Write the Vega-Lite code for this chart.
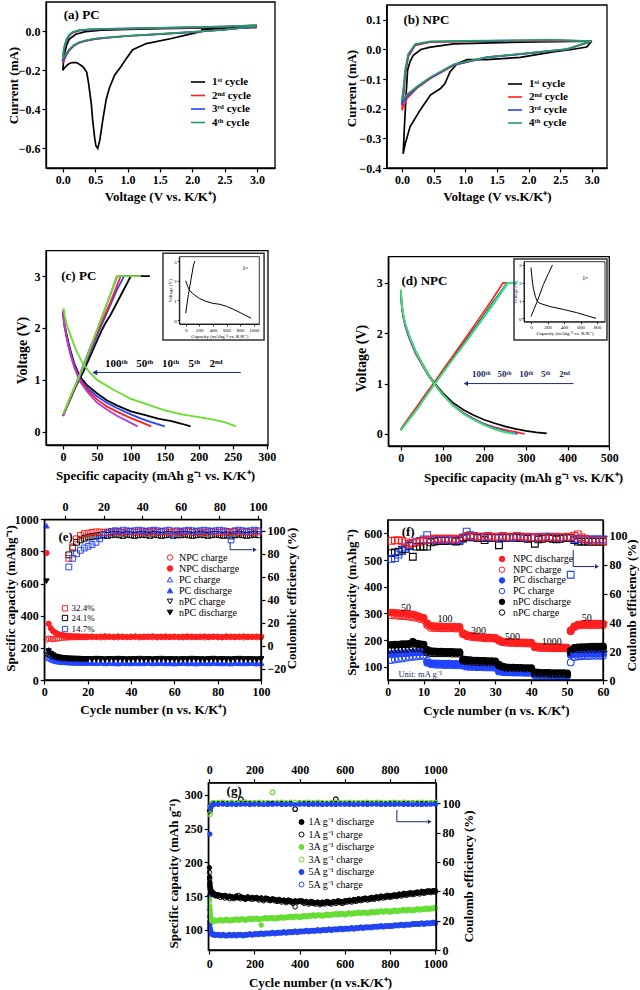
{
"$schema":"https://vega.github.io/schema/vega-lite/v6.json",
"width":640,"height":990,"autosize":"none","padding":0,"background":"white",
"config":{
 "view":{"stroke":null},
 "font":"Liberation Serif",
 "axis":{"grid":false,"labelFont":"Liberation Serif","labelFontSize":12,"labelFontWeight":"bold","labelColor":"#000","titleFont":"Liberation Serif","titleFontSize":13,"titleFontWeight":"bold","titleColor":"#000","domainColor":"#000","domainWidth":1.3,"tickColor":"#000","tickWidth":1.2,"tickSize":4,"labelPadding":2,"labelFlush":false,"labelOverlap":false,"titleAlign":"center","titleBaseline":"middle","format":"d"},
 "legend":{"labelFont":"Liberation Serif","labelFontSize":10,"labelColor":"#000","padding":0,"symbolStrokeWidth":1,"labelLimit":300},
 "text":{"font":"Liberation Serif","color":"#000"},
 "line":{"strokeWidth":1.6}
},
"datasets":{
 "a":[
  {"k":"1ˢᵗ cycle","v":[3.0,2.5,2.15,2.15,1.9,1.68,1.29,1.08,0.98,0.9,0.8,0.72,0.67,0.62,0.57,0.54,0.51,0.49,0.46,0.44,0.4,0.37,0.32,0.28,0.21,0.15,0.1,0.05,0.02,0.0,0.01,0.03,0.06,0.1,0.2,0.35,0.6,1.0,1.5,2.0,2.5,3.0],
   "i":[0.02,0.012,0.008,0.0,-0.02,-0.037,-0.063,-0.094,-0.14,-0.18,-0.225,-0.29,-0.35,-0.45,-0.56,-0.6,-0.585,-0.54,-0.45,-0.37,-0.27,-0.21,-0.185,-0.174,-0.16,-0.16,-0.165,-0.178,-0.19,-0.2,-0.16,-0.11,-0.07,-0.04,-0.015,-0.002,0.006,0.01,0.013,0.016,0.02,0.025]},
  {"k":"2ⁿᵈ cycle","v":[3.0,2.5,2.0,1.5,1.0,0.7,0.5,0.35,0.25,0.17,0.11,0.06,0.03,0.01,0.0,0.01,0.03,0.06,0.1,0.15,0.25,0.4,0.7,1.0,1.5,2.0,2.5,3.0],
   "i":[0.025,0.008,-0.004,-0.014,-0.024,-0.033,-0.04,-0.05,-0.06,-0.075,-0.095,-0.12,-0.14,-0.155,-0.16,-0.12,-0.08,-0.045,-0.022,-0.008,0.003,0.008,0.011,0.013,0.016,0.019,0.023,0.03]},
  {"k":"3ʳᵈ cycle","v":[3.0,2.5,2.0,1.5,1.0,0.7,0.5,0.35,0.25,0.17,0.11,0.06,0.03,0.01,0.0,0.01,0.03,0.06,0.1,0.15,0.25,0.4,0.7,1.0,1.5,2.0,2.5,3.0],
   "i":[0.025,0.008,-0.004,-0.014,-0.024,-0.032,-0.039,-0.048,-0.058,-0.072,-0.092,-0.115,-0.133,-0.145,-0.148,-0.11,-0.075,-0.042,-0.02,-0.006,0.004,0.009,0.012,0.014,0.017,0.02,0.024,0.03]},
  {"k":"4ᵗʰ cycle","v":[3.0,2.5,2.0,1.5,1.0,0.7,0.5,0.35,0.25,0.17,0.11,0.06,0.03,0.01,0.0,0.01,0.03,0.06,0.1,0.15,0.25,0.4,0.7,1.0,1.5,2.0,2.5,3.0],
   "i":[0.025,0.009,-0.003,-0.013,-0.023,-0.031,-0.038,-0.047,-0.056,-0.07,-0.088,-0.11,-0.125,-0.135,-0.138,-0.1,-0.068,-0.038,-0.017,-0.004,0.006,0.01,0.013,0.015,0.018,0.021,0.025,0.031]}
 ],
 "b":[
  {"k":"1ˢᵗ cycle","v":[3.0,2.92,2.66,2.39,1.87,1.34,1.03,0.87,0.76,0.68,0.61,0.45,0.29,0.13,0.05,0.02,0.04,0.07,0.09,0.13,0.18,0.3,0.45,0.82,1.87,3.0],
   "i":[0.028,0.008,-0.001,-0.008,-0.027,-0.034,-0.034,-0.048,-0.076,-0.115,-0.132,-0.154,-0.204,-0.26,-0.32,-0.352,-0.26,-0.14,-0.07,-0.04,-0.02,0.0,0.008,0.019,0.025,0.028]},
  {"k":"2ⁿᵈ cycle","v":[3.0,2.6,1.87,1.34,0.82,0.45,0.24,0.08,0.03,0.0,0.03,0.05,0.1,0.21,0.45,1.34,2.4,3.0],
   "i":[0.028,0.0,-0.016,-0.027,-0.053,-0.098,-0.13,-0.165,-0.19,-0.205,-0.15,-0.09,-0.025,0.014,0.025,0.028,0.03,0.028]},
  {"k":"3ʳᵈ cycle","v":[3.0,2.6,1.87,1.34,0.82,0.45,0.24,0.08,0.03,0.0,0.03,0.05,0.1,0.21,0.45,1.34,2.4,3.0],
   "i":[0.028,0.0,-0.016,-0.027,-0.052,-0.096,-0.128,-0.158,-0.175,-0.182,-0.13,-0.08,-0.02,0.016,0.026,0.029,0.031,0.028]},
  {"k":"4ᵗʰ cycle","v":[3.0,2.6,1.87,1.34,0.82,0.45,0.24,0.08,0.03,0.0,0.03,0.05,0.1,0.21,0.45,1.34,2.4,3.0],
   "i":[0.028,0.001,-0.015,-0.026,-0.05,-0.094,-0.125,-0.152,-0.166,-0.172,-0.12,-0.07,-0.015,0.018,0.027,0.03,0.032,0.028]}
 ],
 "c":[
  {"k":"5th","d":"5d","x":[0,2,5,8,12,17,25,35,50,65,80,100,120,140,160,175,188],"y":[2.3,2.1,1.9,1.72,1.52,1.3,1.06,0.9,0.74,0.6,0.5,0.39,0.32,0.25,0.2,0.15,0.1]},
  {"k":"5th","d":"5c","x":[0,10,20,30,40,50,57,62,70,80,90,100,128],"y":[0.3,0.6,0.9,1.15,1.45,1.75,1.95,2.08,2.25,2.5,2.75,3.0,3.0]},
  {"k":"10th","d":"10d","x":[0,2,5,8,12,17,25,35,50,65,80,100,115,130,150],"y":[2.28,2.05,1.85,1.68,1.48,1.27,1.02,0.85,0.68,0.55,0.45,0.33,0.25,0.18,0.1]},
  {"k":"10th","d":"10c","x":[0,10,20,30,40,50,60,70,80,90,112],"y":[0.3,0.62,0.92,1.22,1.52,1.85,2.15,2.45,2.75,3.0,3.0]},
  {"k":"50th","d":"50d","x":[0,2,5,8,12,17,25,35,50,65,80,100,115,130],"y":[2.3,2.05,1.83,1.65,1.45,1.24,1.0,0.82,0.62,0.48,0.38,0.26,0.18,0.1]},
  {"k":"50th","d":"50c","x":[0,10,20,30,40,50,60,70,85,110],"y":[0.3,0.62,0.93,1.25,1.57,1.9,2.2,2.5,3.0,3.0]},
  {"k":"100th","d":"100d","x":[0,2,5,8,12,17,25,35,50,65,80,95,110],"y":[2.35,2.1,1.85,1.65,1.45,1.22,0.97,0.78,0.56,0.42,0.3,0.2,0.1]},
  {"k":"100th","d":"100c","x":[0,10,20,30,40,50,60,70,80,110],"y":[0.3,0.63,0.95,1.28,1.62,1.95,2.3,2.65,3.0,3.0]},
  {"k":"2nd","d":"2d","x":[1,3,6,10,15,20,25,30,40,50,60,75,90,100,125,150,175,200,225,240,255],"y":[2.38,2.2,2.05,1.9,1.72,1.55,1.42,1.3,1.13,1.0,0.92,0.8,0.7,0.63,0.52,0.41,0.33,0.28,0.22,0.17,0.1]},
  {"k":"2nd","d":"2c","x":[0,10,20,30,40,50,60,70,79,95,115],"y":[0.33,0.65,0.95,1.25,1.6,1.95,2.3,2.65,3.0,3.0,3.0]}
 ],
 "ci":[
  {"d":"dis","x":[0,30,60,100,200,300,400,500,600,700,800,900,960],"y":[2.0,1.7,1.5,1.35,1.1,0.95,0.85,0.8,0.7,0.55,0.38,0.2,0.1]},
  {"d":"ch","x":[0,40,80,115,135],"y":[0.35,1.3,2.1,2.8,3.0]}
 ],
 "d":[
  {"k":"2nd","d":"2d","x":[0,2,5,10,20,35,50,65,80,100,125,150,175,200,225,250,275,300,325,350],"y":[2.85,2.6,2.4,2.2,1.95,1.65,1.42,1.2,1.02,0.82,0.62,0.48,0.37,0.28,0.21,0.15,0.1,0.06,0.03,0.01]},
  {"k":"2nd","d":"2c","x":[0,20,40,60,80,100,130,160,190,220,255,275],"y":[0.08,0.3,0.53,0.77,1.0,1.23,1.57,1.9,2.25,2.6,3.0,3.0]},
  {"k":"5th","d":"5d","x":[0,2,5,10,20,35,50,65,80,100,125,150,175,200,225,250,275,297],"y":[2.8,2.55,2.35,2.15,1.9,1.6,1.38,1.17,0.99,0.78,0.57,0.42,0.3,0.2,0.13,0.08,0.04,0.0]},
  {"k":"5th","d":"5c","x":[0,20,40,60,80,100,130,160,190,220,245,262],"y":[0.1,0.33,0.56,0.8,1.02,1.26,1.61,1.96,2.32,2.68,3.0,3.0]},
  {"k":"10th","d":"10d","x":[0,2,5,10,20,35,50,65,80,100,125,150,175,200,225,250,280],"y":[2.82,2.57,2.37,2.17,1.92,1.62,1.4,1.18,1.0,0.79,0.57,0.41,0.29,0.19,0.11,0.05,0.0]},
  {"k":"10th","d":"10c","x":[0,20,40,60,80,100,130,160,190,220,255,275],"y":[0.08,0.29,0.51,0.75,0.98,1.21,1.55,1.88,2.23,2.58,3.0,3.0]},
  {"k":"50th","d":"50d","x":[0,2,5,10,20,35,50,65,80,100,125,150,175,200,225,250,275],"y":[2.85,2.6,2.4,2.2,1.95,1.64,1.41,1.19,1.0,0.79,0.56,0.4,0.28,0.18,0.1,0.04,0.0]},
  {"k":"50th","d":"50c","x":[0,20,40,60,80,100,130,160,190,220,258,280],"y":[0.07,0.28,0.5,0.74,0.97,1.2,1.54,1.87,2.21,2.55,3.0,3.0]},
  {"k":"100th","d":"100d","x":[0,2,5,10,20,35,50,65,80,100,125,150,175,200,225,250,270],"y":[2.87,2.62,2.42,2.22,1.96,1.65,1.42,1.2,1.0,0.79,0.56,0.4,0.28,0.17,0.09,0.03,0.0]},
  {"k":"100th","d":"100c","x":[0,20,40,60,80,100,130,160,190,220,255,272],"y":[0.08,0.29,0.51,0.75,0.98,1.21,1.55,1.88,2.23,2.58,3.0,3.0]}
 ],
 "di":[
  {"d":"dis","x":[0,12,28,53,77,109,230,392,553,675,788],"y":[2.85,2.25,1.69,1.22,0.94,0.84,0.66,0.5,0.32,0.15,0.0]},
  {"d":"ch","x":[0,40,80,150,210,260],"y":[0.1,0.55,1.0,1.9,2.5,3.0]}
 ],
 "e":[{
  "c":[1,2,3,4,5,6,7,8,9,10,11,12,13,14,15,16,17,18,19,20,22,24,26,28,30,32,34,36,38,40,42,44,46,48,50,52,54,56,58,60,62,64,66,68,70,72,74,76,78,80,82,84,86,88,90,92,94,96,98,100],
  "NPC charge":[252,258,256,254,256,258,260,262,263,264,265,265,266,266,266,267,267,267,267,267,266,267,265,266,268,266,265,267,266,266,268,265,266,267,266,265,267,266,266,268,266,265,267,266,266,267,265,266,268,266,265,267,266,266,267,265,266,267,266,266],
  "NPC discharge":[790,350,322,305,295,288,283,280,277,275,274,273,272,272,271,271,270,270,270,270,271,269,270,272,270,269,271,270,268,270,271,269,270,270,272,269,270,271,269,270,268,270,271,270,269,270,271,269,270,270,268,271,270,269,270,271,270,269,270,271],
  "PC charge":[145,135,128,122,118,115,113,112,111,110,109,108,108,107,107,107,106,106,106,106,105,104,106,103,105,104,102,105,104,103,105,103,104,106,103,104,105,103,104,102,104,105,103,104,102,105,104,103,105,104,103,104,102,105,104,103,104,105,102,104],
  "PC discharge":[960,188,150,138,130,125,122,120,118,116,115,114,113,112,112,111,111,110,110,110,109,108,110,107,109,108,106,109,108,107,109,107,108,110,107,108,109,107,108,106,108,109,107,108,106,109,108,107,109,108,107,108,106,109,108,107,108,109,106,108],
  "nPC charge":[155,150,145,140,136,133,131,130,129,128,128,127,127,127,126,126,126,126,126,126,125,127,126,124,126,125,127,126,124,125,126,127,125,126,124,126,127,125,126,125,124,126,125,127,126,125,124,126,127,125,126,125,124,126,127,125,126,125,124,126],
  "nPC discharge":[615,180,165,155,148,144,141,139,137,136,135,134,134,133,133,133,132,132,132,132,131,133,132,130,132,131,133,132,130,131,132,133,131,132,130,132,133,131,132,131,130,132,131,133,132,131,130,132,133,131,132,131,130,132,133,131,132,131,130,132]
 }],
 "ece":[{
  "cc":[2,4,6,8,10,12,14,16,18,20,22,24,26,28,30,32,34,36,38,40,42,44,46,48,50,52,54,56,58,60,62,64,66,68,70,72,74,76,78,80,82,84,86,88,90,92,94,96,98,100],
  "NPC":[76,86,93,96,97.5,98,98.5,99,99,98.5,99,98.5,99.5,99,98.5,99,99.5,98.5,99,99,98.5,99,99.5,98.5,99,99,98.5,99.5,99,98.5,99,99.5,98.5,99,99,98.5,99,99.5,99,98.5,99,98.5,99,99.5,98.5,99,99,98.5,99,99],
  "nPC":[79,85,90,92,93.5,94.5,95,95.5,96,96.5,96,96.5,97,96.5,96,97,96.5,96,96.5,97,96.5,96,97,96.5,96,96.5,97,96,96.5,96.5,97,96.5,96,96.5,97,96.5,96,96.5,97,96.5,96,96.5,95.5,96.5,97,96.5,96,96.5,97,96.5],
  "PC":[68.5,76,80,83,85,86.5,88,90,93,96,98,99.5,100,99.5,100.5,100,99.5,100,100.5,100,99.5,100,100.5,100,99.5,100,100.5,96,100,99.5,100,100.5,100,99.5,100,100.5,100,99.5,100,100.5,100,99.5,92,100,100.5,100,99.5,100,100.5,100]
 }],
 "f":[{
  "c":[1,2,3,4,5,6,7,8,9,10,11,12,13,14,15,16,17,18,19,20,21,22,23,24,25,26,27,28,29,30,31,32,33,34,35,36,37,38,39,40,41,42,43,44,45,46,47,48,49,50,51,52,53,54,55,56,57,58,59,60],
  "NPC discharge":[303,302,301,300,299,297,296,292,287,283,262,253,252,251,251,250,250,250,249,249,226,219,216,214,212,211,210,210,209,208,200,195,194,193,192,192,191,191,190,190,177,175,174,174,173,173,173,172,172,171,236,251,258,259,260,260,261,261,261,261],
  "NPC charge":[293,292,291,290,289,287,285,283,279,276,256,246,245,245,244,244,244,244,243,243,222,215,212,210,209,208,207,206,206,205,197,192,190,189,189,188,188,187,187,186,173,171,170,170,170,169,169,169,169,168,233,249,254,255,255,256,256,256,256,256],
  "PC discharge":[148,149,150,150,151,152,153,154,155,155,115,113,112,112,111,111,111,110,110,110,105,103,103,102,102,101,101,100,100,100,84,82,82,81,81,80,80,80,79,79,71,70,70,69,69,69,68,68,68,68,145,148,148,149,149,150,150,150,150,150],
  "PC charge":[125,127,129,131,133,135,137,138,140,141,122,110,108,107,107,106,106,106,105,105,104,100,99,99,98,98,97,97,97,96,82,80,79,79,78,78,78,77,77,77,68,67,66,66,66,65,65,65,65,65,116,136,138,139,140,140,141,141,141,141],
  "nPC discharge":[182,183,183,184,184,185,193,186,184,183,163,158,157,156,156,155,155,155,154,154,127,125,124,123,123,122,122,121,121,120,104,100,97,96,96,95,95,94,94,94,79,78,77,77,77,76,76,76,76,75,160,170,172,173,173,174,175,175,175,176],
  "nPC charge":[163,164,165,165,166,166,170,168,168,167,153,151,150,150,150,150,150,149,149,149,122,119,118,117,117,116,116,116,115,115,108,100,96,95,95,94,94,93,93,93,75,74,73,73,73,72,72,72,72,72,155,164,165,165,165,165,166,166,166,166]
 }],
 "fce":[{
  "c":[1,2,3,4,5,6,7,8,9,10,11,12,13,14,15,16,17,18,19,20,21,22,23,24,25,26,27,28,29,30,31,32,33,34,35,36,37,38,39,40,41,42,43,44,45,46,47,48,49,50,51,52,53,54,55,56,57,58,59,60],
  "NPC":[96.5,96.8,97,96.5,95.5,94.5,95,95.5,96,96.5,97,97.5,98,98,98,98,98,98,97.5,98,99,100,99.5,100,99.5,99,99.5,100,99.5,99,99.5,100,99.5,99,99.5,100,99.5,99,99.5,99,99,99.5,99,98.5,99,99,99.5,99,99,99.5,99,100,101,99,98,97,96.5,96.5,96.5,96.5],
  "nPC":[88,88.5,89,90.5,91,93,85.5,92.5,92.5,92.5,92.5,95.5,96,96.5,96.5,96.5,96.5,96.5,96,96.5,98.5,99,99.5,99,98.5,98.5,97,98.5,99,98.5,93.5,98.5,99,98.5,99,99,98.5,98.5,98,98.5,94.5,97.5,98,98.5,98.5,98,97.5,98,98.5,98.5,98.5,97,96,96,96,96,96,96,96,96],
  "PC":[84,84.5,87,89.5,92,93.5,95,96,96.5,97.5,100.5,97,97.5,97,97,97,97,96.5,97,97,98,103,100.5,99.5,99,99.5,99,99,99,99,98.5,99,99,99,98.5,99,99.5,99,98.5,99,99,98.5,99,99.5,99.5,99,99,99,98.5,99,73,97.5,98,97.5,97.5,97.5,97.5,97.5,97.5,97.5]
 }],
 "g":[{
  "c":[1,2,3,4,5,6,8,10,13,16,20,25,30,40,50,60,70,80,90,100,110,120,130,140,150,160,170,180,190,200,210,220,230,240,250,260,270,280,290,300,310,320,330,340,350,360,370,380,390,400,410,420,430,440,450,460,470,480,490,500,510,520,530,540,550,560,570,580,590,600,610,620,630,640,650,660,670,680,690,700,710,720,730,740,750,760,770,780,790,800,810,820,830,840,850,860,870,880,890,900,910,920,930,940,950,960,970,980,990,1000],
  "1A g⁻¹ discharge":[192,178,170,165,162,160,158,157,156,155,154,153,152,152,151,150,151,149,150,149,148,150,147,149,148,146,149,147,148,147,148,146,147,145,147,146,144,146,145,144,145,143,144,142,144,143,141,143,142,143,143,141,142,140,142,141,140,141,139,141,140,142,141,140,142,141,143,142,141,143,143,144,143,145,144,146,145,146,147,146,147,148,147,149,148,150,149,150,151,150,151,152,151,153,152,154,153,154,155,154,155,156,155,157,156,157,158,157,158,158],
  "1A g⁻¹ charge":[185,175,168,163,160,158,156,155,154,153,152,151,150,150,148,149,147,148,146,147,146,148,151,146,147,145,147,146,145,146,146,144,147,143,146,144,143,145,143,142,143,141,143,140,142,141,139,134,141,142,141,139,141,138,140,139,138,140,137,139,138,140,139,138,141,139,141,140,139,141,141,142,141,143,142,144,143,144,145,144,145,146,145,147,146,148,147,148,149,148,149,150,149,151,150,152,151,152,153,152,153,154,153,155,154,155,156,155,156,156],
  "3A g⁻¹ discharge":[165,145,135,128,122,118,116,115,114,114,114,114,114,114,115,114,115,115,114,115,115,116,115,116,116,115,116,117,116,117,117,116,107,117,118,117,118,118,117,118,118,119,118,119,119,120,119,120,120,119,120,121,120,121,121,122,121,122,122,121,122,123,122,123,123,124,123,124,124,123,124,125,124,125,125,126,125,126,126,125,126,127,126,127,127,128,127,128,128,127,128,129,128,129,129,130,129,130,130,129,130,131,130,131,131,132,131,132,132,133],
  "3A g⁻¹ charge":[150,140,130,125,120,117,115,114,113,113,113,113,113,113,114,113,114,114,113,114,114,115,114,115,115,114,115,116,115,116,116,115,116,116,117,116,117,117,116,117,117,118,117,118,118,119,118,119,119,118,119,120,119,120,120,121,120,121,121,120,121,122,121,122,122,123,122,123,123,122,123,124,123,124,124,125,124,125,125,124,125,126,125,126,126,127,126,127,127,126,127,128,127,128,128,129,128,129,129,128,129,130,129,130,130,131,130,131,131,132],
  "5A g⁻¹ discharge":[150,120,108,102,99,97,96,95,94,94,93,93,93,93,92,93,92,92,93,92,93,92,93,93,92,93,93,94,93,94,94,94,95,94,95,95,95,96,95,96,96,96,97,96,97,97,97,98,97,98,98,98,99,98,99,99,99,100,99,100,100,100,101,100,101,101,101,102,101,102,102,102,103,102,103,103,104,103,104,104,104,104,105,105,105,106,105,106,106,106,106,107,107,107,108,107,108,108,108,109,109,109,109,110,109,110,110,110,111,110],
  "5A g⁻¹ charge":[130,112,104,100,98,96,95,94,93,93,92,92,92,92,91,92,91,91,92,91,92,91,92,92,91,92,92,93,92,93,93,93,94,93,94,94,94,95,94,95,95,95,96,95,96,96,96,97,96,97,97,97,98,97,98,98,98,99,98,99,99,99,100,99,100,100,100,101,100,101,101,101,102,101,102,102,103,102,103,103,103,103,104,104,104,105,104,105,105,105,105,106,106,106,107,106,107,107,107,108,108,108,108,109,108,109,109,109,110,109]
 }],
 "gce":[{
  "cc":[3,6,10,15,20,40,60,80,100,120,140,160,180,200,220,240,260,280,300,320,340,360,380,400,420,440,460,480,500,520,540,560,580,600,620,640,660,680,700,720,740,760,780,800,820,840,860,880,900,920,940,960,980,1000],
  "1A":[95,98,99,99.5,99.6,99.8,99.9,99.7,100,99.8,102.7,99.9,99.7,100,99.8,99.9,99.7,99.8,100,99.9,99.7,99.8,96,100,99.9,99.7,99.8,100,99.9,99.7,99.8,102.7,100,99.9,99.7,99.8,100,99.9,99.7,99.8,100,99.9,99.7,99.8,100,99.9,99.7,99.8,100,99.9,99.7,99.8,100,99.9],
  "3A":[92.6,97,99,100,100.4,100.3,100.6,100.2,100.5,100.1,100.4,100.7,100.3,100.2,100.5,100.1,100.4,107.5,100.3,100.6,100.2,100.5,100.3,100.1,100.4,100.6,100.2,100.5,100.3,100.1,100.4,100.6,100.3,100.2,100.5,100.1,100.4,100.3,100.6,100.2,100.5,100.3,100.1,100.4,100.6,100.2,100.5,100.3,100.1,100.4,100.6,100.3,100.2,100.5],
  "5A":[79,96.5,98.5,99,99.2,99.3,99.5,99.2,99.4,99.1,99.3,99.5,99.2,99.4,99.3,99.1,99.4,99.3,99.5,99.2,99.3,99.4,99.1,99.3,99.5,99.2,99.4,99.3,99.1,99.5,99.3,99.2,99.4,99.3,99.5,99.1,99.3,99.4,99.2,99.5,99.3,99.1,99.4,99.3,99.2,99.5,99.3,99.4,99.1,99.3,99.2,99.4,99.3,99.5]
 }]
},
"resolve":{"scale":{"x":"independent","y":"independent","color":"independent","stroke":"independent","fill":"independent","shape":"independent"},"axis":{"x":"independent","y":"independent"},"legend":{"color":"independent","stroke":"independent","fill":"independent","shape":"independent"}},
"layer":[
 {"data":{"name":"a"},"transform":[{"flatten":["v","i"]}],"mark":{"type":"line","strokeWidth":1.7},
  "encoding":{
   "x":{"field":"v","type":"quantitative","scale":{"domain":[-0.26,3.28],"rangeMin":46,"rangeMax":275,"nice":false},"axis":{"orient":"bottom","offset":-822,"values":[0,0.5,1,1.5,2,2.5,3],"format":".1f","title":"Voltage (V vs. K/K⁺)","titleX":160,"titleY":28}},
   "y":{"field":"i","type":"quantitative","scale":{"domain":[-0.7,0.15],"rangeMin":168,"rangeMax":2,"nice":false},"axis":{"orient":"left","offset":-46,"values":[-0.6,-0.4,-0.2,0],"format":".1f","title":"Current (mA)","titleX":-33,"titleY":85}},
   "color":{"field":"k","type":"nominal","scale":{"domain":["1ˢᵗ cycle","2ⁿᵈ cycle","3ʳᵈ cycle","4ᵗʰ cycle"],"range":["#000000","#ff1f1f","#2244ff","#2a9a60"]},"legend":{"title":null,"orient":"none","legendX":190,"legendY":74,"symbolType":"stroke","symbolSize":200,"symbolStrokeWidth":2.2,"labelFontSize":11,"labelFontWeight":"bold","rowPadding":0.5,"labelOffset":6}},
   "order":{"value":null}}},
 {"data":{"values":[{}]},"mark":{"type":"rect","filled":false,"stroke":"#000","strokeWidth":1.3},"encoding":{"x":{"datum":-0.26,"scale":{"domain":[-0.26,3.28],"rangeMin":46,"rangeMax":275,"nice":false},"axis":null},"x2":{"datum":3.28},"y":{"datum":-0.7,"scale":{"domain":[-0.7,0.15],"rangeMin":168,"rangeMax":2,"nice":false},"axis":null},"y2":{"datum":0.15}}},
 {"data":{"values":[{"t":"(a) PC","x":0.015,"y":0.082}]},"mark":{"type":"text","align":"left","baseline":"middle","fontSize":13,"fontWeight":"bold"},"encoding":{"x":{"field":"x","type":"quantitative","scale":{"domain":[-0.26,3.28],"rangeMin":46,"rangeMax":275,"nice":false},"axis":null},"y":{"field":"y","type":"quantitative","scale":{"domain":[-0.7,0.15],"rangeMin":168,"rangeMax":2,"nice":false},"axis":null},"text":{"field":"t"}}},

 {"data":{"name":"b"},"transform":[{"flatten":["v","i"]}],"mark":{"type":"line","strokeWidth":1.7},
  "encoding":{
   "x":{"field":"v","type":"quantitative","scale":{"domain":[-0.24,3.24],"rangeMin":386.7,"rangeMax":607,"nice":false},"axis":{"orient":"bottom","offset":-822,"values":[0,0.5,1,1.5,2,2.5,3],"format":".1f","title":"Voltage (V vs.K/K⁺)","titleX":497,"titleY":28}},
   "y":{"field":"i","type":"quantitative","scale":{"domain":[-0.4,0.15],"rangeMin":168,"rangeMax":5,"nice":false},"axis":{"orient":"left","offset":-386.7,"values":[-0.4,-0.3,-0.2,-0.1,0,0.1],"format":".1f","title":"Current (mA)","titleX":-35,"titleY":88}},
   "color":{"field":"k","type":"nominal","scale":{"domain":["1ˢᵗ cycle","2ⁿᵈ cycle","3ʳᵈ cycle","4ᵗʰ cycle"],"range":["#000000","#ff1f1f","#2244ff","#2a9a60"]},"legend":{"title":null,"orient":"none","legendX":507,"legendY":76,"symbolType":"stroke","symbolSize":200,"symbolStrokeWidth":2.2,"labelFontSize":11,"labelFontWeight":"bold","rowPadding":0,"labelOffset":6}},
   "order":{"value":null}}},
 {"data":{"values":[{}]},"mark":{"type":"rect","filled":false,"stroke":"#000","strokeWidth":1.3},"encoding":{"x":{"datum":-0.24,"scale":{"domain":[-0.24,3.24],"rangeMin":386.7,"rangeMax":607,"nice":false},"axis":null},"x2":{"datum":3.24},"y":{"datum":-0.4,"scale":{"domain":[-0.4,0.15],"rangeMin":168,"rangeMax":5,"nice":false},"axis":null},"y2":{"datum":0.15}}},
 {"data":{"values":[{"t":"(b) NPC","x":0.025,"y":0.098}]},"mark":{"type":"text","align":"left","baseline":"middle","fontSize":13,"fontWeight":"bold"},"encoding":{"x":{"field":"x","type":"quantitative","scale":{"domain":[-0.24,3.24],"rangeMin":386.7,"rangeMax":607,"nice":false},"axis":null},"y":{"field":"y","type":"quantitative","scale":{"domain":[-0.4,0.15],"rangeMin":168,"rangeMax":5,"nice":false},"axis":null},"text":{"field":"t"}}},

 {"data":{"name":"c"},"transform":[{"flatten":["x","y"]}],"mark":{"type":"line","strokeWidth":1.8},
  "encoding":{
   "x":{"field":"x","type":"quantitative","scale":{"domain":[-25,302],"rangeMin":46,"rangeMax":268,"nice":false},"axis":{"orient":"bottom","offset":-545,"values":[0,50,100,150,200,250,300],"title":"Specific capacity (mAh g⁻¹ vs. K/K⁺)","titleX":155,"titleY":30}},
   "y":{"field":"y","type":"quantitative","scale":{"domain":[-0.26,3.49],"rangeMin":445,"rangeMax":250.7,"nice":false},"axis":{"orient":"left","offset":-46,"values":[0,1,2,3],"title":"Voltage (V)","titleFontSize":14,"titleX":-24,"titleY":350}},
   "color":{"field":"k","type":"nominal","scale":{"domain":["2nd","5th","10th","50th","100th"],"range":["#66e02a","#000000","#2244ff","#ff1f1f","#b040d0"]},"legend":null},
   "detail":{"field":"d"},"order":{"value":null}}},
 {"data":{"values":[{}]},"mark":{"type":"rect","filled":false,"stroke":"#000","strokeWidth":1.3},"encoding":{"x":{"datum":-25,"scale":{"domain":[-25,302],"rangeMin":46,"rangeMax":268,"nice":false},"axis":null},"x2":{"datum":302},"y":{"datum":-0.26,"scale":{"domain":[-0.26,3.49],"rangeMin":445,"rangeMax":250.7,"nice":false},"axis":null},"y2":{"datum":3.49}}},
 {"data":{"values":[{"x":262,"y":1.14},{"x":50,"y":1.14}]},"mark":{"type":"line","color":"#1a2a80","strokeWidth":1},"encoding":{"x":{"field":"x","type":"quantitative","scale":{"domain":[-25,302],"rangeMin":46,"rangeMax":268,"nice":false},"axis":null},"y":{"field":"y","type":"quantitative","scale":{"domain":[-0.26,3.49],"rangeMin":445,"rangeMax":250.7,"nice":false},"axis":null}}},
 {"data":{"values":[{}]},"mark":{"type":"point","shape":"triangle-left","filled":true,"color":"#1a2a80","size":30,"opacity":1},"encoding":{"x":{"datum":47,"scale":{"domain":[-25,302],"rangeMin":46,"rangeMax":268,"nice":false},"axis":null},"y":{"datum":1.14,"scale":{"domain":[-0.26,3.49],"rangeMin":445,"rangeMax":250.7,"nice":false},"axis":null}}},
 {"data":{"values":[{"t":"(c) PC","x":-2.5,"y":3.0}]},"mark":{"type":"text","align":"left","baseline":"middle","fontSize":13,"fontWeight":"bold"},"encoding":{"x":{"field":"x","type":"quantitative","scale":{"domain":[-25,302],"rangeMin":46,"rangeMax":268,"nice":false},"axis":null},"y":{"field":"y","type":"quantitative","scale":{"domain":[-0.26,3.49],"rangeMin":445,"rangeMax":250.7,"nice":false},"axis":null},"text":{"field":"t"}}},
 {"data":{"values":[{"t":"100ᵗʰ","x":62,"y":1.25},{"t":"50ᵗʰ","x":108,"y":1.25},{"t":"10ᵗʰ","x":146,"y":1.25},{"t":"5ᵗʰ","x":185,"y":1.25},{"t":"2ⁿᵈ","x":216,"y":1.25}]},"mark":{"type":"text","align":"left","baseline":"alphabetic","fontSize":11,"fontWeight":"bold"},"encoding":{"x":{"field":"x","type":"quantitative","scale":{"domain":[-25,302],"rangeMin":46,"rangeMax":268,"nice":false},"axis":null},"y":{"field":"y","type":"quantitative","scale":{"domain":[-0.26,3.49],"rangeMin":445,"rangeMax":250.7,"nice":false},"axis":null},"text":{"field":"t"}}},

 {"data":{"name":"ci"},"transform":[{"flatten":["x","y"]}],"mark":{"type":"line","strokeWidth":1,"color":"#000"},
  "encoding":{
   "x":{"field":"x","type":"quantitative","scale":{"domain":[-94,1082],"rangeMin":179.3,"rangeMax":259.3,"nice":false},"axis":{"orient":"bottom","offset":-666,"values":[0,200,400,600,800,1000],"title":"Capacity (mAhg⁻¹ vs. K/K⁺)","labelFontSize":5,"labelFontWeight":"normal","titleFontSize":5,"titleFontWeight":"normal","tickSize":2,"tickWidth":0.8,"domainWidth":0.8,"labelPadding":1,"titlePadding":1,"titleBaseline":"top"}},
   "y":{"field":"y","type":"quantitative","scale":{"domain":[-0.2,3.22],"rangeMin":324,"rangeMax":256.7,"nice":false},"axis":{"orient":"left","offset":-179.3,"values":[0,1,2,3],"title":"Voltage (V)","labelFontSize":5,"labelFontWeight":"normal","titleFontSize":5,"titleFontWeight":"normal","tickSize":2,"tickWidth":0.8,"domainWidth":0.8,"labelPadding":1,"titlePadding":1,"titleBaseline":"bottom"}},
   "detail":{"field":"d"},"order":{"value":null}}},
 {"data":{"values":[{}]},"mark":{"type":"rect","filled":false,"stroke":"#000","strokeWidth":0.8},"encoding":{"x":{"datum":-94,"scale":{"domain":[-94,1082],"rangeMin":179.3,"rangeMax":259.3,"nice":false},"axis":null},"x2":{"datum":1082},"y":{"datum":-0.2,"scale":{"domain":[-0.2,3.22],"rangeMin":324,"rangeMax":256.7,"nice":false},"axis":null},"y2":{"datum":3.22}}},
 {"data":{"values":[{}]},"mark":{"type":"rect","filled":false,"stroke":"#333","strokeWidth":1.5},"encoding":{"x":{"datum":-334,"scale":{"domain":[-94,1082],"rangeMin":179.3,"rangeMax":259.3,"nice":false},"axis":null},"x2":{"datum":1152},"y":{"datum":-1.01,"scale":{"domain":[-0.2,3.22],"rangeMin":324,"rangeMax":256.7,"nice":false},"axis":null},"y2":{"datum":3.4}}},
 {"data":{"values":[{"t":"1ˢᵗ","x":873,"y":2.63}]},"mark":{"type":"text","align":"center","baseline":"middle","fontSize":6},"encoding":{"x":{"field":"x","type":"quantitative","scale":{"domain":[-94,1082],"rangeMin":179.3,"rangeMax":259.3,"nice":false},"axis":null},"y":{"field":"y","type":"quantitative","scale":{"domain":[-0.2,3.22],"rangeMin":324,"rangeMax":256.7,"nice":false},"axis":null},"text":{"field":"t"}}},

 {"data":{"name":"d"},"transform":[{"flatten":["x","y"]}],"mark":{"type":"line","strokeWidth":1.6},
  "encoding":{
   "x":{"field":"x","type":"quantitative","scale":{"domain":[-30,500],"rangeMin":388.3,"rangeMax":609.3,"nice":false},"axis":{"orient":"bottom","offset":-544,"values":[0,100,200,300,400,500],"title":"Specific capacity (mAh g⁻¹ vs. K/K⁺)","titleX":523,"titleY":31}},
   "y":{"field":"y","type":"quantitative","scale":{"domain":[-0.24,3.52],"rangeMin":446,"rangeMax":256.7,"nice":false},"axis":{"orient":"left","offset":-388.3,"values":[0,1,2,3],"title":"Voltage (V)","titleFontSize":14,"titleX":-27,"titleY":358}},
   "color":{"field":"k","type":"nominal","scale":{"domain":["2nd","5th","10th","50th","100th"],"range":["#000000","#ff1f1f","#2244ff","#22d3c8","#44dd66"]},"legend":null},
   "detail":{"field":"d"},"order":{"value":null}}},
 {"data":{"values":[{}]},"mark":{"type":"rect","filled":false,"stroke":"#000","strokeWidth":1.3},"encoding":{"x":{"datum":-30,"scale":{"domain":[-30,500],"rangeMin":388.3,"rangeMax":609.3,"nice":false},"axis":null},"x2":{"datum":500},"y":{"datum":-0.24,"scale":{"domain":[-0.24,3.52],"rangeMin":446,"rangeMax":256.7,"nice":false},"axis":null},"y2":{"datum":3.52}}},
 {"data":{"values":[{"x":414,"y":1.0},{"x":160,"y":1.0}]},"mark":{"type":"line","color":"#1a2a80","strokeWidth":1},"encoding":{"x":{"field":"x","type":"quantitative","scale":{"domain":[-30,500],"rangeMin":388.3,"rangeMax":609.3,"nice":false},"axis":null},"y":{"field":"y","type":"quantitative","scale":{"domain":[-0.24,3.52],"rangeMin":446,"rangeMax":256.7,"nice":false},"axis":null}}},
 {"data":{"values":[{}]},"mark":{"type":"point","shape":"triangle-left","filled":true,"color":"#1a2a80","size":25,"opacity":1},"encoding":{"x":{"datum":156,"scale":{"domain":[-30,500],"rangeMin":388.3,"rangeMax":609.3,"nice":false},"axis":null},"y":{"datum":1.0,"scale":{"domain":[-0.24,3.52],"rangeMin":446,"rangeMax":256.7,"nice":false},"axis":null}}},
 {"data":{"values":[{"t":"(d) NPC","x":1.7,"y":3.04}]},"mark":{"type":"text","align":"left","baseline":"middle","fontSize":13,"fontWeight":"bold"},"encoding":{"x":{"field":"x","type":"quantitative","scale":{"domain":[-30,500],"rangeMin":388.3,"rangeMax":609.3,"nice":false},"axis":null},"y":{"field":"y","type":"quantitative","scale":{"domain":[-0.24,3.52],"rangeMin":446,"rangeMax":256.7,"nice":false},"axis":null},"text":{"field":"t"}}},
 {"data":{"values":[{"t":"100ᵗʰ","x":171,"y":1.14},{"t":"50ᵗʰ","x":232,"y":1.14},{"t":"10ᵗʰ","x":284,"y":1.14},{"t":"5ᵗʰ","x":336,"y":1.14},{"t":"2ⁿᵈ","x":380,"y":1.14}]},"mark":{"type":"text","align":"left","baseline":"alphabetic","fontSize":9,"fontWeight":"bold","color":"#1a2a60"},"encoding":{"x":{"field":"x","type":"quantitative","scale":{"domain":[-30,500],"rangeMin":388.3,"rangeMax":609.3,"nice":false},"axis":null},"y":{"field":"y","type":"quantitative","scale":{"domain":[-0.24,3.52],"rangeMin":446,"rangeMax":256.7,"nice":false},"axis":null},"text":{"field":"t"}}},

 {"data":{"name":"di"},"transform":[{"flatten":["x","y"]}],"mark":{"type":"line","strokeWidth":1,"color":"#000"},
  "encoding":{
   "x":{"field":"x","type":"quantitative","scale":{"domain":[-85,897],"rangeMin":524,"rangeMax":605,"nice":false},"axis":{"orient":"bottom","offset":-668.3,"values":[0,200,400,600,800],"title":"Capacity (mAhg⁻¹ vs. K/K⁺)","labelFontSize":5,"labelFontWeight":"normal","titleFontSize":5,"titleFontWeight":"normal","tickSize":2,"tickWidth":0.8,"domainWidth":0.8,"labelPadding":1,"titlePadding":1,"titleBaseline":"top"}},
   "y":{"field":"y","type":"quantitative","scale":{"domain":[-0.19,3.18],"rangeMin":321.7,"rangeMax":261.7,"nice":false},"axis":{"orient":"left","offset":-524,"values":[0,1,2,3],"title":"Voltage (V)","labelFontSize":5,"labelFontWeight":"normal","titleFontSize":5,"titleFontWeight":"normal","titleColor":"#2233aa","tickSize":2,"tickWidth":0.8,"domainWidth":0.8,"labelPadding":1,"titlePadding":1,"titleBaseline":"bottom"}},
   "detail":{"field":"d"},"order":{"value":null}}},
 {"data":{"values":[{}]},"mark":{"type":"rect","filled":false,"stroke":"#000","strokeWidth":0.8},"encoding":{"x":{"datum":-85,"scale":{"domain":[-85,897],"rangeMin":524,"rangeMax":605,"nice":false},"axis":null},"x2":{"datum":897},"y":{"datum":-0.19,"scale":{"domain":[-0.19,3.18],"rangeMin":321.7,"rangeMax":261.7,"nice":false},"axis":null},"y2":{"datum":3.18}}},
 {"data":{"values":[{}]},"mark":{"type":"rect","filled":false,"stroke":"#333","strokeWidth":1.5},"encoding":{"x":{"datum":-206,"scale":{"domain":[-85,897],"rangeMin":524,"rangeMax":605,"nice":false},"axis":null},"x2":{"datum":921},"y":{"datum":-1.22,"scale":{"domain":[-0.19,3.18],"rangeMin":321.7,"rangeMax":261.7,"nice":false},"axis":null},"y2":{"datum":3.33}}},
 {"data":{"values":[{"t":"1ˢᵗ","x":655,"y":2.25}]},"mark":{"type":"text","align":"center","baseline":"middle","fontSize":6},"encoding":{"x":{"field":"x","type":"quantitative","scale":{"domain":[-85,897],"rangeMin":524,"rangeMax":605,"nice":false},"axis":null},"y":{"field":"y","type":"quantitative","scale":{"domain":[-0.19,3.18],"rangeMin":321.7,"rangeMax":261.7,"nice":false},"axis":null},"text":{"field":"t"}}},

 {"data":{"name":"e"},"transform":[{"flatten":["c","NPC charge","NPC discharge","PC charge","PC discharge","nPC charge","nPC discharge"]},{"fold":["PC charge","PC discharge","nPC charge","nPC discharge","NPC charge","NPC discharge"],"as":["s","v"]}],
  "mark":{"type":"point","size":28,"strokeWidth":1,"opacity":1},
  "encoding":{
   "x":{"field":"c","type":"quantitative","scale":{"domain":[0,100],"rangeMin":44.3,"rangeMax":261,"nice":false},"axis":{"orient":"bottom","offset":-310,"values":[0,20,40,60,80,100],"title":"Cycle number (n vs. K/K⁺)","titleX":153,"titleY":29}},
   "y":{"field":"v","type":"quantitative","scale":{"domain":[0,1000],"rangeMin":680,"rangeMax":519.3,"nice":false},"axis":{"orient":"left","offset":-44.3,"values":[0,200,400,600,800,1000],"title":"Specific capacity (mAhg⁻¹)","titleX":-34,"titleY":598}},
   "stroke":{"field":"s","type":"nominal","scale":{"domain":["NPC charge","NPC discharge","PC charge","PC discharge","nPC charge","nPC discharge"],"range":["#ff1f1f","#ff1f1f","#2244ff","#2244ff","#000000","#000000"]},"legend":{"title":null,"orient":"none","legendX":165,"legendY":552.5,"symbolSize":30,"labelFontSize":10,"rowPadding":1,"labelOffset":4}},
   "fill":{"field":"s","type":"nominal","scale":{"domain":["NPC charge","NPC discharge","PC charge","PC discharge","nPC charge","nPC discharge"],"range":["transparent","#ff1f1f","transparent","#2244ff","transparent","#000000"]},"legend":{"title":null,"orient":"none","legendX":165,"legendY":552.5}},
   "shape":{"field":"s","type":"nominal","scale":{"domain":["NPC charge","NPC discharge","PC charge","PC discharge","nPC charge","nPC discharge"],"range":["circle","circle","triangle-up","triangle-up","triangle-down","triangle-down"]},"legend":{"title":null,"orient":"none","legendX":165,"legendY":552.5}}}},
 {"data":{"values":[{}]},"mark":{"type":"rect","filled":false,"stroke":"#000","strokeWidth":1.3},"encoding":{"x":{"datum":0,"scale":{"domain":[0,100],"rangeMin":44.3,"rangeMax":261,"nice":false},"axis":null},"x2":{"datum":100},"y":{"datum":0,"scale":{"domain":[0,1000],"rangeMin":680,"rangeMax":519.3,"nice":false},"axis":null},"y2":{"datum":1000}}},
 {"data":{"values":[{"k":"NPC","x":9.55,"y":446},{"k":"nPC","x":9.55,"y":386},{"k":"PC","x":9.55,"y":317}]},"mark":{"type":"point","shape":"square","filled":false,"size":28,"strokeWidth":1,"opacity":1},"encoding":{"x":{"field":"x","type":"quantitative","scale":{"domain":[0,100],"rangeMin":44.3,"rangeMax":261,"nice":false},"axis":null},"y":{"field":"y","type":"quantitative","scale":{"domain":[0,1000],"rangeMin":680,"rangeMax":519.3,"nice":false},"axis":null},"color":{"field":"k","type":"nominal","scale":{"domain":["NPC","nPC","PC"],"range":["#ff1f1f","#000000","#2244ff"]},"legend":null}}},
 {"data":{"values":[{"t":"32.4%","x":12.6,"y":446},{"t":"24.1%","x":12.6,"y":386},{"t":"14.7%","x":12.6,"y":317}]},"mark":{"type":"text","align":"left","baseline":"middle","fontSize":9},"encoding":{"x":{"field":"x","type":"quantitative","scale":{"domain":[0,100],"rangeMin":44.3,"rangeMax":261,"nice":false},"axis":null},"y":{"field":"y","type":"quantitative","scale":{"domain":[0,1000],"rangeMin":680,"rangeMax":519.3,"nice":false},"axis":null},"text":{"field":"t"}}},
 {"data":{"values":[{"t":"(e)","x":6.5,"y":892}]},"mark":{"type":"text","align":"left","baseline":"middle","fontSize":13,"fontWeight":"bold"},"encoding":{"x":{"field":"x","type":"quantitative","scale":{"domain":[0,100],"rangeMin":44.3,"rangeMax":261,"nice":false},"axis":null},"y":{"field":"y","type":"quantitative","scale":{"domain":[0,1000],"rangeMin":680,"rangeMax":519.3,"nice":false},"axis":null},"text":{"field":"t"}}},

 {"data":{"name":"ece"},"transform":[{"flatten":["cc","NPC","nPC","PC"]},{"fold":["nPC","NPC","PC"],"as":["k","ce"]}],
  "mark":{"type":"point","shape":"square","filled":false,"size":34,"strokeWidth":1,"opacity":1},
  "encoding":{
   "x":{"field":"cc","type":"quantitative","scale":{"domain":[-10.7,101.5],"rangeMin":44.3,"rangeMax":261,"nice":false},"axis":{"orient":"top","offset":-519.3,"values":[0,20,40,60,80,100],"title":null}},
   "y":{"field":"ce","type":"quantitative","scale":{"domain":[-30,110],"rangeMin":680,"rangeMax":519.3,"nice":false},"axis":{"orient":"right","offset":-379,"values":[-20,0,20,40,60,80,100],"title":"Coulombic efficiency (%)","titleAngle":270,"titleX":30.7,"titleY":598}},
   "color":{"field":"k","type":"nominal","scale":{"domain":["NPC","nPC","PC"],"range":["#ff1f1f","#000000","#2244ff"]},"legend":null}}},
 {"data":{"values":[{"x":85.5,"y":90},{"x":85.5,"y":83.5},{"x":97,"y":83.5}]},"mark":{"type":"line","color":"#1a2a6c","strokeWidth":1},"encoding":{"x":{"field":"x","type":"quantitative","scale":{"domain":[-10.7,101.5],"rangeMin":44.3,"rangeMax":261,"nice":false},"axis":null},"y":{"field":"y","type":"quantitative","scale":{"domain":[-30,110],"rangeMin":680,"rangeMax":519.3,"nice":false},"axis":null},"order":{"value":null}}},
 {"data":{"values":[{}]},"mark":{"type":"point","shape":"triangle-right","filled":true,"color":"#1a2a6c","size":20,"opacity":1},"encoding":{"x":{"datum":98.3,"scale":{"domain":[-10.7,101.5],"rangeMin":44.3,"rangeMax":261,"nice":false},"axis":null},"y":{"datum":83.5,"scale":{"domain":[-30,110],"rangeMin":680,"rangeMax":519.3,"nice":false},"axis":null}}},

 {"data":{"name":"f"},"transform":[{"flatten":["c","NPC discharge","NPC charge","PC discharge","PC charge","nPC discharge","nPC charge"]},{"fold":["PC charge","PC discharge","nPC charge","nPC discharge","NPC charge","NPC discharge"],"as":["s","v"]}],
  "mark":{"type":"point","shape":"circle","size":45,"strokeWidth":1.1,"opacity":1},
  "encoding":{
   "x":{"field":"c","type":"quantitative","scale":{"domain":[0,60],"rangeMin":387.7,"rangeMax":603,"nice":false},"axis":{"orient":"bottom","offset":-310,"values":[0,10,20,30,40,50,60],"title":"Cycle number (n vs. K/K⁺)","titleX":496,"titleY":30}},
   "y":{"field":"v","type":"quantitative","scale":{"domain":[50,650],"rangeMin":680,"rangeMax":520,"nice":false},"axis":{"orient":"left","offset":-387.7,"values":[100,200,300,400,500,600],"title":"Specific capacity (mAhg⁻¹)","titleX":-36,"titleY":602}},
   "stroke":{"field":"s","type":"nominal","scale":{"domain":["NPC discharge","NPC charge","PC discharge","PC charge","nPC discharge","nPC charge"],"range":["#ff1f1f","#ff1f1f","#2244ff","#2244ff","#000000","#000000"]},"legend":{"title":null,"orient":"none","legendX":497,"legendY":554,"symbolSize":30,"labelFontSize":10,"rowPadding":0.7,"labelOffset":6}},
   "fill":{"field":"s","type":"nominal","scale":{"domain":["NPC discharge","NPC charge","PC discharge","PC charge","nPC discharge","nPC charge"],"range":["#ff1f1f","transparent","#2244ff","transparent","#000000","transparent"]},"legend":{"title":null,"orient":"none","legendX":497,"legendY":554}}}},
 {"data":{"values":[{}]},"mark":{"type":"rect","filled":false,"stroke":"#000","strokeWidth":1.3},"encoding":{"x":{"datum":0,"scale":{"domain":[0,60],"rangeMin":387.7,"rangeMax":603,"nice":false},"axis":null},"x2":{"datum":60},"y":{"datum":50,"scale":{"domain":[50,650],"rangeMin":680,"rangeMax":520,"nice":false},"axis":null},"y2":{"datum":650}}},
 {"data":{"values":[{"t":"50","x":5.1,"y":319},{"t":"100","x":16,"y":278},{"t":"300","x":25.3,"y":235},{"t":"500","x":34.8,"y":212},{"t":"1000","x":45.7,"y":194},{"t":"50","x":55.5,"y":281}]},"mark":{"type":"text","align":"center","baseline":"middle","fontSize":10},"encoding":{"x":{"field":"x","type":"quantitative","scale":{"domain":[0,60],"rangeMin":387.7,"rangeMax":603,"nice":false},"axis":null},"y":{"field":"y","type":"quantitative","scale":{"domain":[50,650],"rangeMin":680,"rangeMax":520,"nice":false},"axis":null},"text":{"field":"t"}}},
 {"data":{"values":[{"t":"Unit: mA g⁻¹","x":3,"y":71}]},"mark":{"type":"text","align":"left","baseline":"middle","fontSize":8.5,"color":"#1c2a7a"},"encoding":{"x":{"field":"x","type":"quantitative","scale":{"domain":[0,60],"rangeMin":387.7,"rangeMax":603,"nice":false},"axis":null},"y":{"field":"y","type":"quantitative","scale":{"domain":[50,650],"rangeMin":680,"rangeMax":520,"nice":false},"axis":null},"text":{"field":"t"}}},
 {"data":{"values":[{"t":"(f)","x":3.9,"y":606}]},"mark":{"type":"text","align":"left","baseline":"middle","fontSize":13,"fontWeight":"bold"},"encoding":{"x":{"field":"x","type":"quantitative","scale":{"domain":[0,60],"rangeMin":387.7,"rangeMax":603,"nice":false},"axis":null},"y":{"field":"y","type":"quantitative","scale":{"domain":[50,650],"rangeMin":680,"rangeMax":520,"nice":false},"axis":null},"text":{"field":"t"}}},

 {"data":{"name":"fce"},"transform":[{"flatten":["c","NPC","nPC","PC"]},{"fold":["nPC","PC","NPC"],"as":["k","ce"]}],
  "mark":{"type":"point","shape":"square","filled":false,"size":45,"strokeWidth":1.1,"opacity":1},
  "encoding":{
   "x":{"field":"c","type":"quantitative","scale":{"domain":[0,60],"rangeMin":387.7,"rangeMax":603,"nice":false},"axis":null},
   "y":{"field":"ce","type":"quantitative","scale":{"domain":[0,111],"rangeMin":680,"rangeMax":520,"nice":false},"axis":{"orient":"right","offset":-37,"values":[0,20,40,60,80,100],"title":"Coulomb efficiency (%)","titleAngle":270,"titleX":28.7,"titleY":605}},
   "color":{"field":"k","type":"nominal","scale":{"domain":["NPC","nPC","PC"],"range":["#ff1f1f","#000000","#2244ff"]},"legend":null}}},
 {"data":{"values":[{"x":51.7,"y":90.3},{"x":51.7,"y":78.7},{"x":57.6,"y":78.7}]},"mark":{"type":"line","color":"#1a2a6c","strokeWidth":1},"encoding":{"x":{"field":"x","type":"quantitative","scale":{"domain":[0,60],"rangeMin":387.7,"rangeMax":603,"nice":false},"axis":null},"y":{"field":"y","type":"quantitative","scale":{"domain":[0,111],"rangeMin":680,"rangeMax":520,"nice":false},"axis":null},"order":{"value":null}}},
 {"data":{"values":[{}]},"mark":{"type":"point","shape":"triangle-right","filled":true,"color":"#1a2a6c","size":20,"opacity":1},"encoding":{"x":{"datum":58.3,"scale":{"domain":[0,60],"rangeMin":387.7,"rangeMax":603,"nice":false},"axis":null},"y":{"datum":78.7,"scale":{"domain":[0,111],"rangeMin":680,"rangeMax":520,"nice":false},"axis":null}}},

 {"data":{"name":"g"},"transform":[{"flatten":["c","1A g⁻¹ discharge","1A g⁻¹ charge","3A g⁻¹ discharge","3A g⁻¹ charge","5A g⁻¹ discharge","5A g⁻¹ charge"]},{"fold":["1A g⁻¹ charge","1A g⁻¹ discharge","3A g⁻¹ charge","3A g⁻¹ discharge","5A g⁻¹ charge","5A g⁻¹ discharge"],"as":["s","v"]}],
  "mark":{"type":"point","shape":"circle","size":20,"strokeWidth":1,"opacity":1},
  "encoding":{
   "x":{"field":"c","type":"quantitative","scale":{"domain":[-4,1003],"rangeMin":208.3,"rangeMax":436,"nice":false},"axis":{"orient":"bottom","offset":-40,"values":[0,200,400,600,800,1000],"labelPadding":4,"title":"Cycle number (n  vs.K/K⁺)","titleX":320,"titleY":32.5}},
   "y":{"field":"v","type":"quantitative","scale":{"domain":[70,318],"rangeMin":950,"rangeMax":782.7,"nice":false},"axis":{"orient":"left","offset":-208.3,"values":[100,150,200,250,300],"title":"Specific capacity (mAh g⁻¹)","titleX":-35,"titleY":873}},
   "stroke":{"field":"s","type":"nominal","scale":{"domain":["1A g⁻¹ discharge","1A g⁻¹ charge","3A g⁻¹ discharge","3A g⁻¹ charge","5A g⁻¹ discharge","5A g⁻¹ charge"],"range":["#000000","#000000","#66dd33","#66dd33","#2244ee","#2244ee"]},"legend":{"title":null,"orient":"none","legendX":296.5,"legendY":817,"symbolSize":25,"labelFontSize":10,"rowPadding":2.5,"labelOffset":2}},
   "fill":{"field":"s","type":"nominal","scale":{"domain":["1A g⁻¹ discharge","1A g⁻¹ charge","3A g⁻¹ discharge","3A g⁻¹ charge","5A g⁻¹ discharge","5A g⁻¹ charge"],"range":["#000000","transparent","#66dd33","transparent","#2244ee","transparent"]},"legend":{"title":null,"orient":"none","legendX":296.5,"legendY":817}}}},
 {"data":{"values":[{}]},"mark":{"type":"rect","filled":false,"stroke":"#000","strokeWidth":1.3},"encoding":{"x":{"datum":-4,"scale":{"domain":[-4,1003],"rangeMin":208.3,"rangeMax":436,"nice":false},"axis":null},"x2":{"datum":1003},"y":{"datum":70,"scale":{"domain":[70,318],"rangeMin":950,"rangeMax":782.7,"nice":false},"axis":null},"y2":{"datum":318}}},
 {"data":{"values":[{"t":"(g)","x":77,"y":306}]},"mark":{"type":"text","align":"left","baseline":"middle","fontSize":13,"fontWeight":"bold"},"encoding":{"x":{"field":"x","type":"quantitative","scale":{"domain":[-4,1003],"rangeMin":208.3,"rangeMax":436,"nice":false},"axis":null},"y":{"field":"y","type":"quantitative","scale":{"domain":[70,318],"rangeMin":950,"rangeMax":782.7,"nice":false},"axis":null},"text":{"field":"t"}}},

 {"data":{"name":"gce"},"transform":[{"flatten":["cc","1A","3A","5A"]},{"fold":["1A","3A"],"as":["k","ce"]}],
  "mark":{"type":"point","shape":"circle","filled":false,"size":22,"strokeWidth":1.2,"opacity":1},
  "encoding":{
   "x":{"field":"cc","type":"quantitative","scale":{"domain":[-4,1003],"rangeMin":208.3,"rangeMax":436,"nice":false},"axis":{"orient":"top","offset":-782.7,"values":[0,200,400,600,800,1000],"title":null}},
   "y":{"field":"ce","type":"quantitative","scale":{"domain":[0,114],"rangeMin":950,"rangeMax":782.7,"nice":false},"axis":{"orient":"right","offset":-204,"values":[0,20,40,60,80,100],"title":"Coulomb efficiency (%)","titleAngle":270,"titleX":32.3,"titleY":876}},
   "color":{"field":"k","type":"nominal","scale":{"domain":["1A","3A"],"range":["#000000","#66dd33"]},"legend":null}}},
 {"data":{"name":"gce"},"transform":[{"flatten":["cc","5A"]}],
  "mark":{"type":"point","shape":"circle","filled":true,"size":26,"color":"#2244ee","opacity":1},
  "encoding":{
   "x":{"field":"cc","type":"quantitative","scale":{"domain":[-4,1003],"rangeMin":208.3,"rangeMax":436,"nice":false},"axis":null},
   "y":{"field":"5A","type":"quantitative","scale":{"domain":[0,114],"rangeMin":950,"rangeMax":782.7,"nice":false},"axis":null}}},
 {"data":{"values":[{"x":830,"y":95.4},{"x":830,"y":87.4},{"x":965,"y":87.4}]},"mark":{"type":"line","color":"#1a2a6c","strokeWidth":1},"encoding":{"x":{"field":"x","type":"quantitative","scale":{"domain":[-4,1003],"rangeMin":208.3,"rangeMax":436,"nice":false},"axis":null},"y":{"field":"y","type":"quantitative","scale":{"domain":[0,114],"rangeMin":950,"rangeMax":782.7,"nice":false},"axis":null},"order":{"value":null}}},
 {"data":{"values":[{}]},"mark":{"type":"point","shape":"triangle-right","filled":true,"color":"#1a2a6c","size":20,"opacity":1},"encoding":{"x":{"datum":975,"scale":{"domain":[-4,1003],"rangeMin":208.3,"rangeMax":436,"nice":false},"axis":null},"y":{"datum":87.4,"scale":{"domain":[0,114],"rangeMin":950,"rangeMax":782.7,"nice":false},"axis":null}}}
]
}
